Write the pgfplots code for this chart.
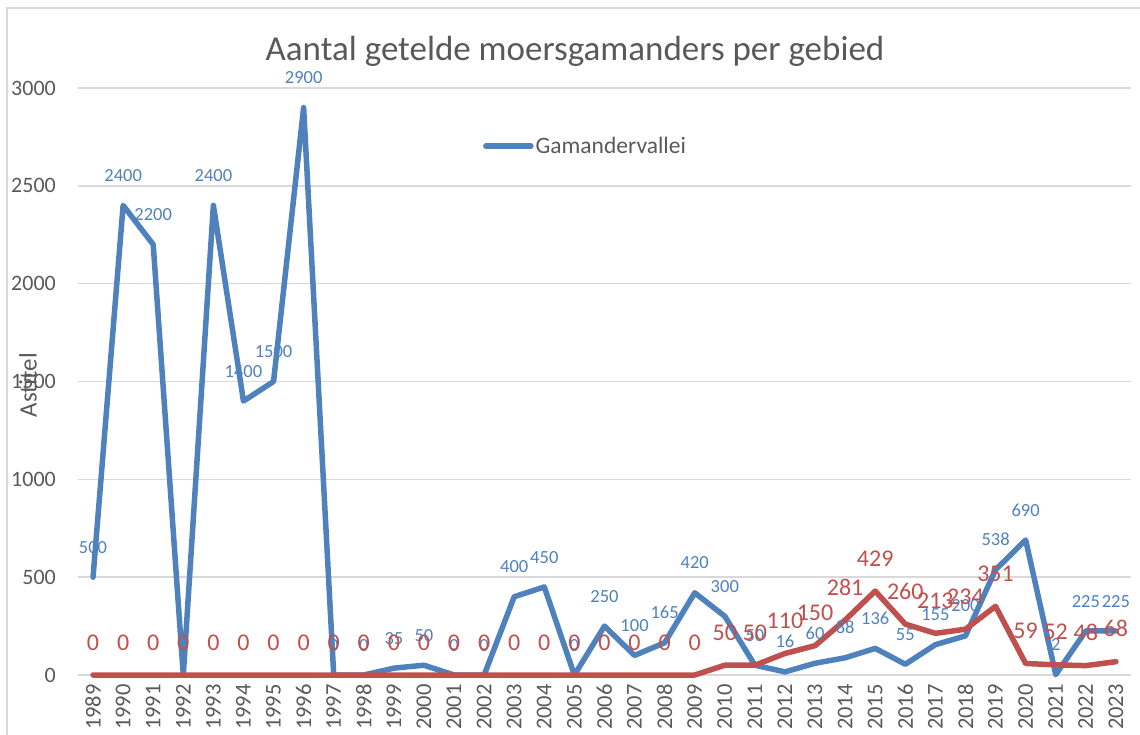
\documentclass[border=0pt]{standalone}
\usepackage{fontspec}
\setmainfont{Carlito}
\usepackage{pgfplots}
\pgfplotsset{compat=1.18}
\definecolor{cblue}{HTML}{4F81BD}
\definecolor{cred}{HTML}{C0504D}
\definecolor{tgray}{HTML}{595959}
\definecolor{ggray}{HTML}{D9D9D9}
\begin{document}
\begin{tikzpicture}[x=1pt,y=1pt]
\path[use as bounding box] (0,0) rectangle (1140,734);
\draw[ggray, line width=1.5pt] (7,-5) -- (7,726) -- (1145,726);
\begin{axis}[
  anchor=south west, at={(78pt,59pt)},
  scale only axis, width=1053pt, height=587pt,
  xmin=1988.5, xmax=2023.5, ymin=0, ymax=3000,
  clip=false,
  axis line style={draw=none},
  major tick length=0pt,
  ymajorgrids, grid style={ggray, line width=1.5pt},
  ytick={0,500,...,3000},
  xtick={1989,...,2023},
  /pgf/number format/1000 sep={},
  /pgf/number format/assume math mode=true,
  yticklabel style={font=\fontsize{22}{24}\selectfont, text=tgray, inner sep=0pt, anchor=east, xshift=-22pt},
  xticklabel style={font=\fontsize{22.5}{24}\selectfont, text=tgray, inner sep=0pt, yshift=-9pt, rotate=90, anchor=east},
  ylabel={Astitel},
  ylabel style={at={(rel axis cs:-0.0475,0.494)}, anchor=center, font=\fontsize{25}{27}\selectfont, text=tgray},
  legend style={at={(0.482,0.901)}, anchor=center, draw=none, fill=none, font=\fontsize{23.5}{25}\selectfont, text=tgray},
  legend image code/.code={\draw[#1] (0pt,0pt) -- (45pt,0pt);},
  every axis plot/.append style={line width=5.5pt, line join=round, line cap=round},
]
\addplot[cblue, no markers,
  nodes near coords,
  every node near coord/.append style={font=\fontsize{18.5}{20}\selectfont, text=cblue, anchor=south, inner sep=0pt, yshift=21pt}]
coordinates {
(1989,500) (1990,2400) (1991,2200) (1992,0) (1993,2400) (1994,1400) (1995,1500)
(1996,2900) (1997,0) (1998,0) (1999,35) (2000,50) (2001,0) (2002,0) (2003,400)
(2004,450) (2005,0) (2006,250) (2007,100) (2008,165) (2009,420) (2010,300)
(2011,50) (2012,16) (2013,60) (2014,88) (2015,136) (2016,55) (2017,155)
(2018,200) (2019,538) (2020,690) (2021,2) (2022,225) (2023,225)};
\addlegendentry{Gamandervallei}
\addplot[cred, no markers, forget plot,
  nodes near coords,
  every node near coord/.append style={font=\fontsize{24}{26}\selectfont, text=cred, anchor=south, inner sep=0pt, yshift=22pt}]
coordinates {
(1989,0) (1990,0) (1991,0) (1992,0) (1993,0) (1994,0) (1995,0) (1996,0)
(1997,0) (1998,0) (1999,0) (2000,0) (2001,0) (2002,0) (2003,0) (2004,0)
(2005,0) (2006,0) (2007,0) (2008,0) (2009,0) (2010,50) (2011,50) (2012,110)
(2013,150) (2014,281) (2015,429) (2016,260) (2017,213) (2018,234) (2019,351)
(2020,59) (2021,52) (2022,48) (2023,68)};
\end{axis}
\node[text=tgray, font=\fontsize{35}{40}\selectfont] at (575,683) {Aantal getelde moersgamanders per gebied};
\end{tikzpicture}
\end{document}
